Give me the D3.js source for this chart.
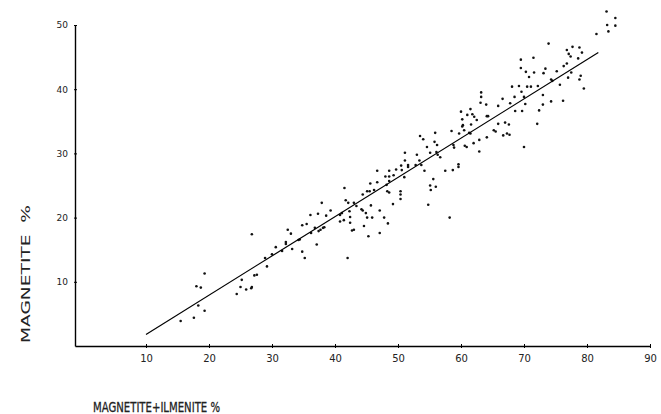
<!DOCTYPE html>
<html>
<head>
<meta charset="utf-8">
<script src="https://cdn.jsdelivr.net/npm/d3@7"></script>
<style>
  body { margin: 0; background: #fff; }
  text { font-family: "DejaVu Sans", sans-serif; fill: #222; }
</style>
</head>
<body>
<svg id="chart"></svg>
<script>
// magnetite + ilmenite % (x) and magnetite % (y)
let magIlm = [
  26.8, 32.5, 33.0, 32.2, 32.2, 30.6, 31.6, 33.2, 30.0, 28.9, 29.2, 27.2, 27.6, 19.3, 18.0, 18.7,
  25.0, 25.2, 26.8, 26.7, 25.9, 24.4, 18.3, 19.3, 17.6, 15.5,
  51.1, 53.0, 51.1, 53.4, 50.5, 51.6, 51.6, 52.8, 49.7, 46.7, 48.6, 50.6, 48.0, 48.6, 49.3, 51.0,
  48.6, 45.6, 46.7, 48.2, 41.5, 45.1, 45.5, 46.2, 48.3, 48.6, 44.4, 50.4, 50.4, 50.4, 41.7, 43.0,
  37.9, 42.1, 45.7, 49.2, 43.4, 44.2, 44.4, 39.3, 42.3, 47.1, 37.3, 38.6, 36.1, 40.8, 41.1, 44.9,
  45.1, 45.9, 42.4, 47.8, 41.4, 40.8, 42.4, 35.5, 34.8, 48.4, 38.3, 38.1, 37.7, 37.4, 36.8, 44.6,
  43.0, 42.7, 36.2, 47.1, 45.3, 34.4, 34.2, 37.1, 34.8, 35.2, 42.0,
  68.1, 69.2, 70.5, 69.6, 63.2, 63.2, 70.0, 66.6, 68.5, 63.1, 64.0, 65.9, 67.8, 68.6, 69.7, 60.0,
  61.5, 61.0, 61.8, 62.1, 64.1, 64.3, 60.2, 62.5, 60.3, 60.2, 61.6, 65.9, 67.0, 67.6, 65.2, 65.5,
  58.5, 60.5, 61.3, 61.5, 59.7, 67.3, 66.7, 67.7, 55.9, 53.5, 54.0, 64.1, 62.9, 55.8, 56.2, 54.6,
  58.8, 58.9, 60.6, 60.9, 62.0, 70.0, 62.9, 55.1, 56.1, 56.3, 56.7, 53.7, 59.6, 59.6, 54.2, 57.5,
  58.7, 55.6, 55.1, 56.0, 55.2, 54.8, 58.2,
  83.1, 84.5, 83.2, 84.5, 83.4, 81.5, 73.9, 77.7, 78.8, 76.8, 77.1, 79.2, 77.4, 78.6, 69.5, 71.5,
  76.8, 76.3, 69.5, 73.4, 73.1, 70.3, 71.6, 75.2, 77.5, 70.8, 79.0, 77.0, 78.8, 74.3, 74.5, 75.7,
  71.1, 72.2, 79.5, 73.0, 70.2, 73.0, 74.3, 76.2, 72.4, 72.1
]
let magnetite = [
  17.4, 18.1, 17.5, 16.2, 15.9, 15.4, 14.8, 15.1, 14.3, 13.7, 12.4, 11.0, 11.1, 11.3, 9.3, 9.1,
  9.2, 10.3, 9.2, 9.0, 8.8, 8.1, 6.3, 5.5, 4.4, 3.9,
  30.1, 29.8, 28.9, 28.9, 28.1, 28.2, 27.9, 28.2, 27.5, 27.3, 27.3, 27.4, 26.4, 26.4, 26.6, 26.3,
  25.7, 25.3, 25.5, 25.1, 24.6, 24.1, 24.1, 24.3, 24.1, 23.9, 23.6, 24.1, 23.6, 22.9, 22.7, 22.3,
  22.3, 22.3, 21.9, 22.1, 21.8, 21.3, 21.1, 21.1, 21.0, 21.1, 20.6, 20.3, 20.4, 20.4, 20.7, 20.7,
  20.0, 20.0, 20.1, 20.0, 19.6, 19.4, 19.2, 19.0, 18.8, 19.1, 18.5, 18.4, 18.1, 17.9, 18.4, 18.7,
  18.1, 18.0, 17.6, 17.6, 17.1, 16.6, 16.5, 15.8, 14.7, 13.7, 13.7,
  40.4, 40.5, 40.4, 39.6, 39.5, 38.8, 38.8, 38.5, 38.8, 37.9, 37.6, 37.4, 37.8, 36.6, 36.6, 36.5,
  36.9, 36.0, 36.1, 35.7, 35.8, 35.8, 35.3, 35.2, 34.4, 34.2, 34.5, 34.6, 34.8, 34.5, 33.6, 33.4,
  33.5, 33.6, 33.2, 33.1, 33.1, 33.1, 32.8, 32.9, 33.2, 32.7, 32.2, 32.5, 32.1, 31.8, 31.3, 31.0,
  31.3, 30.9, 31.2, 31.0, 31.6, 31.0, 30.3, 30.1, 30.2, 29.8, 29.4, 28.2, 28.3, 27.9, 27.3, 27.3,
  27.4, 26.0, 25.0, 24.8, 24.3, 22.0, 20.0,
  52.1, 51.1, 50.0, 49.9, 49.0, 48.6, 47.1, 46.6, 46.5, 46.1, 45.5, 45.7, 45.1, 44.8, 44.6, 44.9,
  44.0, 43.6, 43.3, 43.2, 42.5, 42.7, 42.6, 42.8, 42.6, 41.9, 42.1, 41.8, 41.5, 41.5, 41.3, 40.7,
  40.4, 40.5, 40.1, 39.1, 37.7, 37.6, 38.1, 38.2, 36.7, 34.6
]
// fitted line end points
let fitX = [10.0, 81.8]
let fitY = [1.8, 45.7]
let xTicks = [10, 20, 30, 40, 50, 60, 70, 80, 90]
let yTicks = [10, 20, 30, 40, 50]

let width = 661
let height = 414
let svg = d3.select('#chart')
  .attr('width', width)
  .attr('height', height)

let x = d3.scaleLinear().domain([-1.27, 90]).range([75, 650])
let y = d3.scaleLinear().domain([0, 50]).range([346, 25])

// axes
let xAxis = svg.append('g')
  .attr('transform', `translate(0,${y(0)})`)
  .call(d3.axisBottom(x).tickValues(xTicks).tickSize(3).tickSizeOuter(0).tickPadding(6))
let yAxis = svg.append('g')
  .attr('transform', `translate(${x.range()[0]},0)`)
  .call(d3.axisLeft(y).tickValues(yTicks).tickSize(3).tickSizeOuter(0).tickPadding(4))

xAxis.select('.domain').attr('stroke', '#000').attr('stroke-width', 1.4)
yAxis.select('.domain').attr('stroke', '#000').attr('stroke-width', 1.4)
xAxis.selectAll('.tick line').attr('y1', -2).attr('y2', 2).attr('stroke', '#000')
yAxis.selectAll('.tick line').attr('x1', -1).attr('x2', 2).attr('stroke', '#000')
xAxis.selectAll('.tick text').attr('font-size', 10).attr('fill', '#222')
yAxis.selectAll('.tick text').attr('font-size', 9).attr('fill', '#222')

// points
let pts = magIlm.map((v, i) => [v, magnetite[i]])
svg.append('g')
  .selectAll('circle')
  .data(pts)
  .enter()
  .append('circle')
  .attr('cx', (d) => x(d[0]))
  .attr('cy', (d) => y(d[1]))
  .attr('r', 1.3)
  .attr('fill', '#111')

// regression line
svg.append('line')
  .attr('x1', x(fitX[0]))
  .attr('y1', y(fitY[0]))
  .attr('x2', x(fitX[1]))
  .attr('y2', y(fitY[1]))
  .attr('stroke', '#000')
  .attr('stroke-width', 1.2)

// axis titles
svg.append('text')
  .attr('transform', 'translate(30,274) rotate(-90)')
  .attr('text-anchor', 'middle')
  .attr('font-size', 13)
  .style('white-space', 'pre')
  .attr('textLength', 138)
  .attr('lengthAdjust', 'spacingAndGlyphs')
  .text('MAGNETITE  %')
svg.append('text')
  .attr('x', 93)
  .attr('y', 412)
  .attr('font-size', 14)
  .attr('stroke', '#222')
  .attr('stroke-width', 0.3)
  .attr('textLength', 127)
  .attr('lengthAdjust', 'spacingAndGlyphs')
  .text('MAGNETITE+ILMENITE %')
</script>
</body>
</html>
